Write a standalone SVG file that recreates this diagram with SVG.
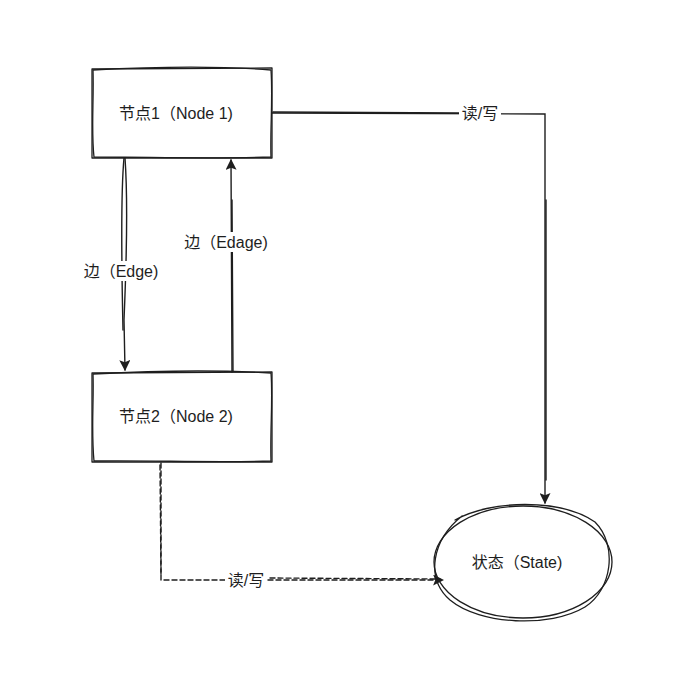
<svg xmlns="http://www.w3.org/2000/svg" width="695" height="684" viewBox="0 0 695 684">
<defs>
<style>
.shape{fill:none;stroke:#1e1e1e;stroke-width:1.3;stroke-linecap:round;stroke-linejoin:round}
.edge{fill:none;stroke:#1e1e1e;stroke-width:1.4;stroke-linecap:round}
.dash{stroke-dasharray:5 3}
.lbl{font-family:"Liberation Sans","Noto Sans CJK SC",sans-serif;font-size:16px;fill:#1e1e1e;text-anchor:middle;dominant-baseline:central}
.bg{fill:#ffffff}
</style>
<marker id="arr" viewBox="0 0 10 10" refX="9" refY="5" markerWidth="11" markerHeight="11" orient="auto-start-reverse" markerUnits="userSpaceOnUse">
<path d="M0,0 L10,5 L0,10 L2,5 Z" fill="#1e1e1e"/>
</marker>
</defs>
<rect width="695" height="684" fill="#ffffff"/>

<g id="connectors">
  <g id="e1">
    <path class="edge" d="M124,158 C121,190 121,240 123,330" />
    <path class="edge" d="M125,158 C128,200 127,250 124,320 L125,370" marker-end="url(#arr)"/>
    <rect class="bg" x="82" y="261" width="78" height="20"/>
    <text class="lbl" x="121" y="271">边（Edge)</text>
  </g>
  <g id="e2">
    <path class="edge" d="M232,372 L231,160" marker-end="url(#arr)"/>
    <path class="edge" d="M233,371 L232,200"/>
    <rect class="bg" x="180" y="232" width="92" height="20"/>
    <text class="lbl" x="226" y="242">边（Edage)</text>
  </g>
  <g id="e3">
    <path class="edge" d="M272,113 L545,114 L545,503" marker-end="url(#arr)"/>
    <path class="edge" d="M273,112 L460,113 M546,200 L546,480"/>
    <rect class="bg" x="459" y="103" width="42" height="20"/>
    <text class="lbl" x="480" y="113">读/写</text>
  </g>
  <g id="e4">
    <path class="edge dash" d="M161,463 L161,580 L443,580" marker-end="url(#arr)"/>
    <path class="edge dash" d="M160,465 L161,575 M270,578 L440,579"/>
    <rect class="bg" x="225" y="570" width="42" height="20"/>
    <text class="lbl" x="246" y="580">读/写</text>
  </g>
</g>

<g id="node1">
  <path class="shape" d="M92,69 L272,68 L272,158 L92,158 Z"/>
  <path class="shape" d="M93,70 C150,67 220,66 271,70 C273,100 270,130 271,157 C210,159 150,157 94,157 C91,130 94,100 93,70"/>
  <text class="lbl" x="176" y="113">节点1（Node 1)</text>
</g>

<g id="node2">
  <path class="shape" d="M92,373 L272,372 L272,462 L92,462 Z"/>
  <path class="shape" d="M93,374 C150,371 220,370 271,373 C273,400 270,430 271,461 C210,463 150,460 94,461 C91,430 94,400 93,374"/>
  <text class="lbl" x="176" y="416">节点2（Node 2)</text>
</g>

<g id="state">
  <ellipse class="shape" cx="523" cy="562" rx="89" ry="56"/>
  <path class="shape" d="M455,520 C490,500 560,498 595,522 C618,545 612,590 585,607 C550,628 480,625 450,600 C425,578 432,540 462,516"/>
  <text class="lbl" x="517" y="562">状态（State)</text>
</g>
</svg>
